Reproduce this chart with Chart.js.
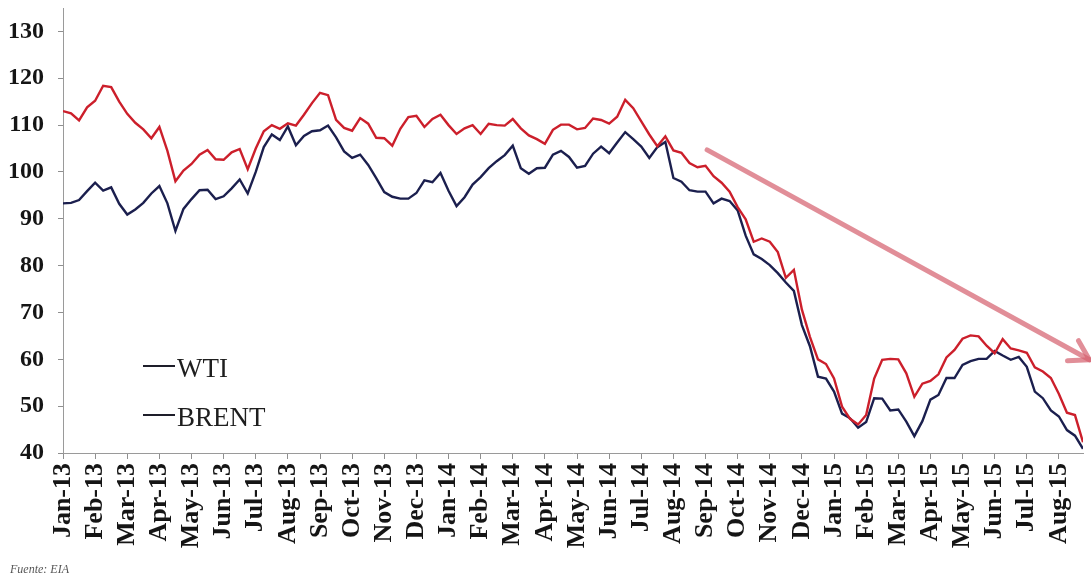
<!DOCTYPE html>
<html><head><meta charset="utf-8">
<script src="https://cdn.jsdelivr.net/npm/chart.js@4.4.0/dist/chart.umd.min.js"></script>
<style>
html,body{margin:0;padding:0;background:#fff;}
#wrap{position:relative;width:1091px;height:580px;}
#src{position:absolute;left:10px;top:562px;font:italic 12px 'Liberation Serif',serif;color:#555;}
</style></head><body>
<div id="wrap"><canvas id="c" width="1091" height="580"></canvas><div id="src">Fuente: EIA</div></div>
<script>
// Month tick labels (x axis)
const months = ['Jan-13','Feb-13','Mar-13','Apr-13','May-13','Jun-13','Jul-13','Aug-13','Sep-13','Oct-13','Nov-13','Dec-13',
  'Jan-14','Feb-14','Mar-14','Apr-14','May-14','Jun-14','Jul-14','Aug-14','Sep-14','Oct-14','Nov-14','Dec-14',
  'Jan-15','Feb-15','Mar-15','Apr-15','May-15','Jun-15','Jul-15','Aug-15'];
// Weekly values (4 per month), USD per barrel
const wti = [
  93.3, 93.4, 94.0, 95.9,   97.7, 96.0, 96.7, 93.2,   90.9, 92.0, 93.4, 95.4,   97.0, 93.3, 87.4, 92.1,
  94.2, 96.1, 96.2, 94.2,   94.8, 96.5, 98.4, 95.4,   100.0, 105.3, 108.0, 106.8, 109.7, 105.7, 107.7, 108.7,
  108.9, 109.9, 107.4, 104.4, 103.0, 103.7, 101.5, 98.7, 95.7, 94.7, 94.3, 94.3,  95.5, 98.2, 97.8, 99.8,
  96.0, 92.7, 94.6, 97.3,   98.9, 100.8, 102.3, 103.6, 105.6, 100.8, 99.6, 100.8, 100.9, 103.7, 104.5, 103.2,
  100.9, 101.3, 103.9, 105.4, 104.0, 106.3, 108.5, 107.0, 105.4, 103.0, 105.3, 106.4, 98.7, 97.9, 96.1, 95.8,
  95.8, 93.3, 94.3, 93.8,   91.8, 86.4, 82.4, 81.4,   80.1, 78.4, 76.4, 74.6,   67.3, 62.8, 56.3, 55.9,
  53.1, 48.4, 47.4, 45.4,   46.6, 51.7, 51.6, 49.1,   49.3, 46.7, 43.6, 46.8,   51.4, 52.4, 56.0, 56.0,
  58.8, 59.6, 60.1, 60.1,   61.8, 60.8, 59.9, 60.5,   58.4, 53.1, 51.7, 49.1,   47.8, 44.9, 43.7, 40.9
];
const brent = [
  113.0, 112.5, 111.0, 113.8, 115.2, 118.4, 118.1, 115.0, 112.4, 110.5, 109.1, 107.2, 109.6, 104.5, 98.0, 100.3,
  101.7, 103.7, 104.7, 102.7, 102.6, 104.2, 104.9, 100.6, 105.0, 108.7, 110.0, 109.2, 110.4, 109.9, 112.2, 114.7,
  116.9, 116.4, 111.1, 109.4, 108.8, 111.5, 110.3, 107.3, 107.2, 105.6, 109.2, 111.7, 112.0, 109.6, 111.3, 112.2,
  110.0, 108.1, 109.3, 110.0, 108.1, 110.3, 110.0, 109.9, 111.3, 109.3, 107.8, 107.0, 106.0, 109.0, 110.1, 110.1,
  109.1, 109.4, 111.4, 111.1, 110.3, 111.8, 115.4, 113.6, 110.8, 108.0, 105.5, 107.6, 104.6, 104.1, 101.9, 101.0,
  101.3, 99.1, 97.7, 95.8,   92.5, 89.9, 85.1, 85.8,   85.1, 82.9, 77.4, 79.1,   70.6, 64.8, 60.0, 59.0,
  55.9, 49.9, 47.3, 46.1,   48.1, 55.9, 59.9, 60.1,   60.0, 57.0, 52.0, 54.8,   55.4, 56.8, 60.4, 62.0,
  64.4, 65.1, 64.9, 62.9,   61.3, 64.3, 62.3, 61.9,   61.4, 58.3, 57.4, 56.0,   52.6, 48.6, 48.1, 42.3
];
const seriesNames = ['WTI', 'BRENT'];
const pointsPerMonth = 4;
const yMin = 40, yMax = 135, yStep = 10;
// Trend arrow annotation, in data units (month index, price)
const trendArrow = { x0: 20.05, y0: 104.7, x1: 31.95, y1: 59.9 };

const toXY = arr => arr.map((v, i) => ({ x: i / pointsPerMonth, y: v }));
const SERIF = "'Liberation Serif', 'Times New Roman', serif";

const legendPlugin = {
  id: 'innerLegend',
  afterDraw(chart) {
    const ctx = chart.ctx, ca = chart.chartArea;
    ctx.save();
    ctx.font = '27px ' + SERIF;
    ctx.fillStyle = '#1e1e1e';
    ctx.strokeStyle = '#1e1e2a';
    ctx.lineWidth = 2;
    ctx.textBaseline = 'alphabetic';
    const x0 = ca.left + 80;
    const rows = [ca.top + 358, ca.top + 407];
    seriesNames.forEach((name, i) => {
      const y = rows[i];
      ctx.beginPath(); ctx.moveTo(x0, y); ctx.lineTo(x0 + 32, y); ctx.stroke();
      ctx.fillText(name, x0 + 34, y + 11);
    });
    ctx.restore();
  }
};

const arrowPlugin = {
  id: 'trendArrow',
  afterDatasetsDraw(chart) {
    const xs = chart.scales.x, ys = chart.scales.y, ctx = chart.ctx;
    const ax = xs.getPixelForValue(trendArrow.x0), ay = ys.getPixelForValue(trendArrow.y0);
    const bx = xs.getPixelForValue(trendArrow.x1), by = ys.getPixelForValue(trendArrow.y1);
    const ang = Math.atan2(by - ay, bx - ax);
    const hl = 22, ha = 0.55;
    ctx.save();
    ctx.strokeStyle = 'rgba(214, 98, 112, 0.72)';
    ctx.lineWidth = 5;
    ctx.lineCap = 'round';
    ctx.lineJoin = 'round';
    ctx.beginPath(); ctx.moveTo(ax, ay); ctx.lineTo(bx, by); ctx.stroke();
    ctx.beginPath();
    ctx.moveTo(bx - hl * Math.cos(ang - ha), by - hl * Math.sin(ang - ha));
    ctx.lineTo(bx, by);
    ctx.lineTo(bx - hl * Math.cos(ang + ha), by - hl * Math.sin(ang + ha));
    ctx.stroke();
    ctx.restore();
  }
};

new Chart(document.getElementById('c'), {
  type: 'line',
  data: {
    datasets: [
      { label: seriesNames[1], data: toXY(brent), borderColor: '#cc1f2b', borderWidth: 2.4, pointRadius: 0, tension: 0, order: 0 },
      { label: seriesNames[0], data: toXY(wti), borderColor: '#1b1f4e', borderWidth: 2.4, pointRadius: 0, tension: 0, order: 1 }
    ]
  },
  options: {
    responsive: false,
    animation: false,
    devicePixelRatio: 1,
    layout: { padding: { top: 8, right: 8, left: 0, bottom: 15 } },
    plugins: { legend: { display: false }, tooltip: { enabled: false } },
    scales: {
      x: {
        type: 'linear', min: 0, max: 31.75,
        afterFit: s => { s.height = 112; s.paddingLeft = 0; s.paddingRight = 0; },
        grid: { drawOnChartArea: false, drawTicks: true, tickLength: 6, color: '#8f8f8f' },
        border: { display: true, color: '#9a9a9a', width: 1 },
        ticks: {
          stepSize: 1, includeBounds: false, autoSkip: false, maxRotation: 90, minRotation: 90, padding: 4,
          color: '#151515', font: { family: SERIF, size: 26, weight: 'bold' },
          callback: v => months[v] || ''
        }
      },
      y: {
        min: yMin, max: yMax,
        afterFit: s => { s.width = 63; s.paddingTop = 0; s.paddingBottom = 0; },
        grid: { drawOnChartArea: false, drawTicks: true, tickLength: 5, color: '#8f8f8f' },
        border: { display: true, color: '#9a9a9a', width: 1 },
        ticks: {
          stepSize: yStep, includeBounds: false, padding: 14,
          color: '#151515', font: { family: SERIF, size: 24, weight: 'bold' }
        }
      }
    }
  },
  plugins: [arrowPlugin, legendPlugin]
});
</script>
</body></html>
